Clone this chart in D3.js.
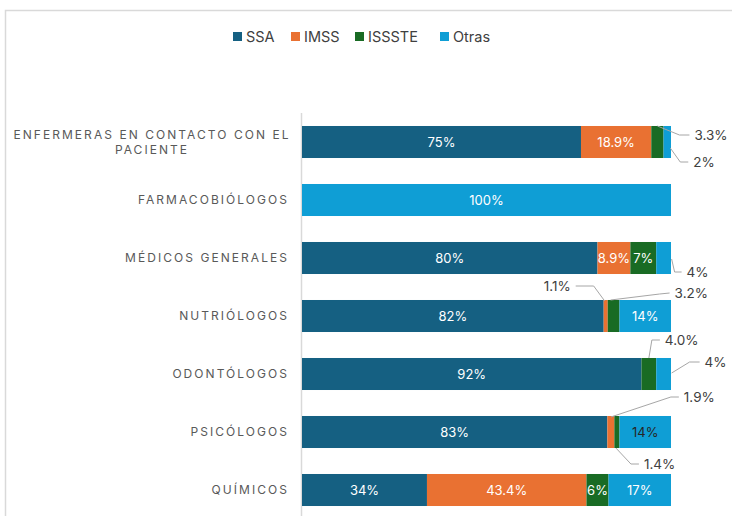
<!DOCTYPE html>
<meta charset="utf-8">
<style>
  body { margin: 0; background: #fff; font-family: Inter, "Open Sans", sans-serif; }
  .cat text { fill: #595959; font-size: 12px; letter-spacing: 2.05px; }
  .lbl-in { font-size: 13px; text-anchor: middle; }
  .lbl-out { fill: #404040; font-size: 13.5px; }
  .leader { stroke: #a6a6a6; fill: none; stroke-width: 1; }
  .legend text { fill: #404040; font-size: 14.5px; }
</style>
<body>
<div id="chart"></div>
<script src="https://d3js.org/d3.v7.min.js"></script>
<script>
const categories = [
  ["ENFERMERAS EN CONTACTO CON EL", "PACIENTE"],
  ["FARMACOBIÓLOGOS"],
  ["MÉDICOS GENERALES"],
  ["NUTRIÓLOGOS"],
  ["ODONTÓLOGOS "],
  ["PSICÓLOGOS"],
  ["QUÍMICOS"]
];
const seriesNames = ["SSA", "IMSS", "ISSSTE", "Otras"];
const ssa    = [75, 0, 80, 82, 92, 83, 34];
const imss   = [18.9, 0, 8.9, 1.1, 0, 1.9, 43.4];
const issste = [3.3, 0, 7, 3.2, 4.0, 1.4, 6];
const otras  = [2, 100, 4, 14, 4, 14, 17];
// label text as printed on the chart
const ssaLbl    = ["75%", "", "80%", "82%", "92%", "83%", "34%"];
const imssLbl   = ["18.9%", "", "8.9%", "1.1%", "", "1.9%", "43.4%"];
const issteLbl  = ["3.3%", "", "7%", "3.2%", "4.0%", "1.4%", "6%"];
const otrasLbl  = ["2%", "100%", "4%", "14%", "4%", "14%", "17%"];

const colors = ["#156082", "#E97132", "#196B24", "#0F9ED5"];

// callouts for thin segments: [category index, series index, path offsets from segment centre / bar centre, anchor]
const callouts = [
  [0, 2, [[0,-16],[22,-7],[32,-7]], "start"],
  [0, 3, [[3,6],[13,20],[21,20]], "start"],
  [2, 3, [[8,1],[11,14],[18,14]], "start"],
  [3, 1, [[-1,-15],[-12,-30],[-30,-30]], "end"],
  [3, 2, [[-3,-16],[46,-22],[56,-23]], "start"],
  [4, 2, [[0,-16],[3,-34],[11,-34]], "start"],
  [4, 3, [[8,-1],[26,-12],[36,-12]], "start"],
  [5, 1, [[0,-15],[60,-35],[68,-35]], "start"],
  [5, 2, [[-1,16],[14,32],[22,32]], "start"]
];
const darkLabels = [[5, 3]];

const W = 732, H = 516;
const svg = d3.select("#chart").append("svg").attr("width", W).attr("height", H);

// frame
svg.append("path").attr("d", `M5.5,${H} V10.5 H${W}`)
  .attr("fill", "none").attr("stroke", "#d9d9d9").attr("stroke-width", 1.5);

const rows = categories.map((c, i) => {
  const vals = [ssa[i], imss[i], issste[i], otras[i]];
  const lbls = [ssaLbl[i], imssLbl[i], issteLbl[i], otrasLbl[i]];
  const total = d3.sum(vals);
  let acc = 0;
  const segs = vals.map((v, s) => {
    const seg = { s, x0: acc / total * 100, x1: (acc + v) / total * 100, v, label: lbls[s] };
    acc += v;
    return seg;
  });
  return { i, segs };
});

const x = d3.scaleLinear().domain([0, 100]).range([302, 671]);
const y = d3.scaleBand().domain(d3.range(categories.length)).range([113, 519])
  .paddingInner(0.448).paddingOuter(0.224);

// axis line
svg.append("line").attr("x1", 301.5).attr("x2", 301.5).attr("y1", 113).attr("y2", H)
  .attr("stroke", "#d9d9d9").attr("stroke-width", 1.5);

// category labels
const cat = svg.append("g").attr("class", "cat");
categories.forEach((lines, i) => {
  const cy = y(i) + y.bandwidth() / 2;
  if (lines.length === 1) {
    cat.append("text").attr("x", 289).attr("y", cy).attr("dy", "0.35em")
      .attr("text-anchor", "end").text(lines[0]);
  } else {
    const t = cat.append("text").attr("text-anchor", "middle");
    lines.forEach((l, k) => {
      t.append("tspan").attr("x", 152).attr("y", cy + (k - 0.5) * 15).attr("dy", "0.35em").text(l);
    });
  }
});

// bars
const g = svg.append("g");
rows.forEach(r => {
  const by = y(r.i), bh = y.bandwidth();
  r.segs.forEach(sg => {
    if (sg.v <= 0) return;
    g.append("rect").attr("x", x(sg.x0)).attr("y", by)
      .attr("width", x(sg.x1) - x(sg.x0)).attr("height", bh)
      .attr("fill", colors[sg.s]);
  });
});

// inside labels
const isCallout = (i, s) => callouts.some(c => c[0] === i && c[1] === s);
const isDark = (i, s) => darkLabels.some(c => c[0] === i && c[1] === s);
rows.forEach(r => {
  const cy = y(r.i) + y.bandwidth() / 2;
  r.segs.forEach(sg => {
    if (sg.v <= 0 || !sg.label || isCallout(r.i, sg.s)) return;
    g.append("text").attr("class", "lbl-in")
      .attr("x", (x(sg.x0) + x(sg.x1)) / 2).attr("y", cy).attr("dy", "0.35em")
      .attr("fill", isDark(r.i, sg.s) ? "#262626" : "#fff")
      .text(sg.label);
  });
});

// callouts with leader lines
callouts.forEach(([i, s, pts, anchor]) => {
  const sg = rows[i].segs[s];
  const cx = (x(sg.x0) + x(sg.x1)) / 2;
  const cy = y(i) + y.bandwidth() / 2;
  const p = pts.map(([dx, dy]) => [cx + dx, cy + dy]);
  g.append("path").attr("class", "leader").attr("d", d3.line()(p));
  const last = p[p.length - 1];
  g.append("text").attr("class", "lbl-out")
    .attr("x", last[0] + (anchor === "end" ? -5 : 5)).attr("y", last[1]).attr("dy", "0.35em")
    .attr("text-anchor", anchor).text(sg.label);
});

// legend
const legend = svg.append("g").attr("class", "legend");
const legX = [233, 291, 355, 440];
seriesNames.forEach((n, k) => {
  legend.append("rect").attr("x", legX[k]).attr("y", 32).attr("width", 9).attr("height", 9)
    .attr("fill", colors[k]);
  legend.append("text").attr("x", legX[k] + 13).attr("y", 36.5).attr("dy", "0.35em").text(n);
});
</script>
</body>
</html>
